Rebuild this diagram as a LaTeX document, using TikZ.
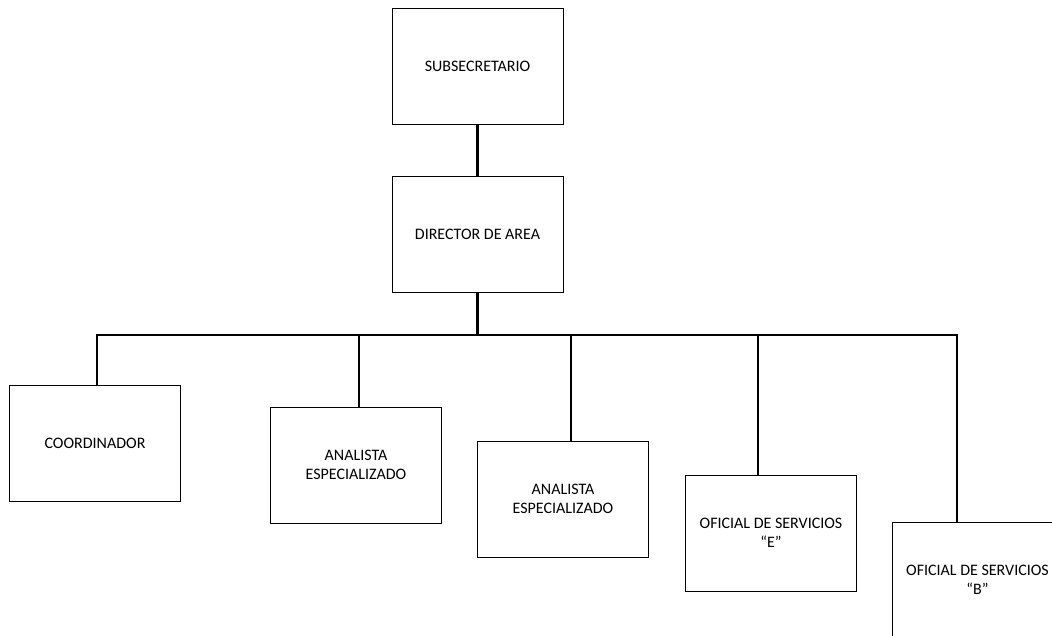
\documentclass[tikz,border=0pt]{standalone}
\usepackage{fontspec}
\setmainfont{Carlito}
\begin{document}
\begin{tikzpicture}[x=1pt,y=-1pt,
  box/.style={draw=black, line width=1pt, minimum width=171pt, minimum height=116pt,
    align=center, inner sep=0pt, font=\fontsize{16}{19}\selectfont},
  link/.style={line width=2.2pt, line join=miter}]
\useasboundingbox (0,0) rectangle (1052,635);
\clip (0,0) rectangle (1052,635);
\node[box] (sub) at (477.5,66) {SUBSECRETARIO};
\node[box] (dir) at (477.5,234.5) {DIRECTOR DE AREA};
\node[box] (coord) at (95,443) {COORDINADOR};
\node[box] (an1) at (356,465) {ANALISTA\\ESPECIALIZADO};
\node[box] (an2) at (563,499) {ANALISTA\\ESPECIALIZADO};
\node[box] (ofe) at (771,533) {OFICIAL DE SERVICIOS\\“E”};
\node[box] (ofb) at (977.5,580) {OFICIAL DE SERVICIOS\\“B”};
\coordinate (b0) at (477.5,335);
\coordinate (b1) at (97,335);
\coordinate (b2) at (359,335);
\coordinate (b3) at (571,335);
\coordinate (b4) at (758,335);
\coordinate (b5) at (957,335);
\draw[link] (sub) -- (dir);
\draw[link] (dir) -- (b0);
\draw[link] (b1 |- coord.north) -- (b1) -- (b5) -- (b5 |- ofb.north);
\draw[link] (b2) -- (b2 |- an1.north);
\draw[link] (b3) -- (b3 |- an2.north);
\draw[link] (b4) -- (b4 |- ofe.north);
\end{tikzpicture}
\end{document}
